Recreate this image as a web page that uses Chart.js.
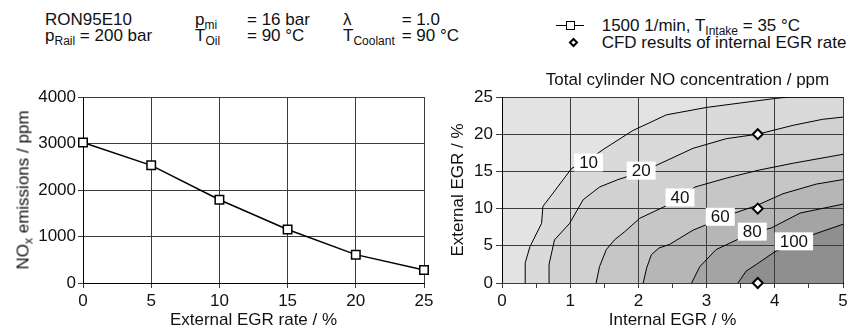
<!DOCTYPE html>
<html>
<head>
<meta charset="utf-8">
<script src="https://cdn.jsdelivr.net/npm/chart.js@4.4.1/dist/chart.umd.min.js"></script>
<style>
  body { margin: 0; background: #fff; }
  #page { position: relative; width: 853px; height: 331px; overflow: hidden;
          font-family: "Liberation Sans", Arial, sans-serif; font-size: 17px; color: #111; }
  canvas { position: absolute; }
  .txt { position: absolute; line-height: 17px; white-space: nowrap; }
  .txt sub { font-size: 12px; vertical-align: -4px; line-height: 0; }
  .sym-line { position: absolute; width: 28px; height: 0; border-top: 1.5px solid #000; }
  .sym-sq { position: absolute; width: 9px; height: 9px; box-sizing: border-box;
            border: 1.5px solid #000; background: #fff; }
  .sym-dia { position: absolute; width: 7px; height: 7px; box-sizing: border-box;
             border: 2px solid #000; background: #fff; transform: rotate(45deg); }
</style>
</head>
<body>
<div id="page">
  <canvas id="noxChart" width="440" height="251" style="left:0;top:80px"></canvas>
  <canvas id="noChart" width="413" height="251" style="left:440px;top:80px"></canvas>

  <!-- operating point header -->
  <div class="txt" style="left:45px;top:10.6px">RON95E10</div>
  <div class="txt" style="left:45px;top:27.3px">p<sub>Rail</sub> = 200 bar</div>
  <div class="txt" style="left:195px;top:10.6px">p<sub>mi</sub></div>
  <div class="txt" style="left:247px;top:10.6px">= 16 bar</div>
  <div class="txt" style="left:195px;top:27.3px">T<sub>Oil</sub></div>
  <div class="txt" style="left:247px;top:27.3px">= 90 °C</div>
  <div class="txt" style="left:343px;top:10.6px">λ</div>
  <div class="txt" style="left:401.7px;top:10.6px">= 1.0</div>
  <div class="txt" style="left:343px;top:27.3px">T<sub>Coolant</sub></div>
  <div class="txt" style="left:401.7px;top:27.3px">= 90 °C</div>

  <!-- legend -->
  <div class="sym-line" style="left:556px;top:24.8px"></div>
  <div class="sym-sq" style="left:565.5px;top:21px"></div>
  <div class="txt" style="left:601.7px;top:17.3px">1500 1/min, T<sub>Intake</sub> = 35 °C</div>
  <div class="sym-dia" style="left:569.5px;top:39.2px"></div>
  <div class="txt" style="left:601.7px;top:33.9px">CFD results of internal EGR rate</div>

  <div class="txt" style="left:687.5px;top:70.6px;transform:translateX(-50%)">Total cylinder NO concentration / ppm</div>
  <div class="txt" style="left:22.8px;top:190px;transform:translate(-50%,-50%) rotate(-90deg)">NO<sub>x</sub> emissions / ppm</div>
</div>

<script>
// left chart: NOx over external EGR
const egrRate = [0, 5, 10, 15, 20, 25];
const noxPpm = [3020, 2530, 1790, 1150, 610, 280];

// right chart: iso lines of total cylinder NO, [internal EGR %, external EGR %]
const isoLevels = [100, 80, 60, 40, 20, 10];
const iso100 = [[3.46, 0], [3.58, 1.6], [3.73, 2.5], [4.0, 4.2], [4.28, 5.3], [4.56, 6.5], [5, 7.9]];
const iso80 = [[2.78, 0], [2.9, 2.2], [3.14, 4.5], [3.49, 6.0], [3.7, 6.8], [3.95, 7.4], [4.37, 9.4], [5, 10.6]];
const iso60 = [[2.07, 0], [2.12, 2.0], [2.19, 3.8], [2.3, 4.7], [2.46, 5.2], [2.8, 7.1], [3.2, 8.6],
               [3.41, 9.4], [3.73, 10.4], [4.12, 12.0], [4.61, 13.3], [5, 13.9]];
const iso40 = [[1.38, 0], [1.43, 2.2], [1.53, 4.5], [1.65, 5.8], [1.8, 6.9], [2.02, 8.7], [2.39, 10.3],
               [2.61, 11.4], [2.83, 12.9], [3.29, 14.1], [3.78, 15.2], [4.27, 16.1], [5, 17.3]];
const iso20 = [[0.69, 0], [0.69, 2.5], [0.77, 5.8], [0.99, 8.0], [1.19, 11.2], [1.43, 12.9], [1.7, 13.9],
               [2.04, 14.9], [2.26, 15.8], [2.8, 18.1], [3.29, 19.4], [3.75, 20], [4.27, 21.2], [4.7, 22.0], [5, 22.3]];
const iso10 = [[0.34, 0], [0.34, 2.7], [0.41, 4.9], [0.58, 8.0], [0.6, 10.3], [0.75, 12.1], [1.02, 15.4],
               [1.27, 16.6], [1.51, 18.1], [1.92, 20.5], [2.41, 22.6], [3.0, 23.6], [3.5, 24.2], [4.0, 24.8],
               [4.2, 25], [5, 25]];
const isoLines = [iso100, iso80, iso60, iso40, iso20, iso10];

// CFD points
const cfdInternal = [3.75, 3.75, 3.75];
const cfdExternal = [0, 10, 20];

// where the level numbers sit on the lines
const labelInternal = [4.28, 3.67, 3.2, 2.61, 2.04, 1.27];
const labelExternal = [5.6, 6.9, 8.9, 11.5, 15.1, 16.2];

const FONT = '"Liberation Sans", Arial, sans-serif';
Chart.defaults.font.family = FONT;
Chart.defaults.font.size = 17;
Chart.defaults.color = '#111';

const gridCol = '#3c3c3c';
const bandFill = ['#8f8f8f', '#a4a4a4', '#b6b6b6', '#c6c6c6', '#d1d1d1', '#dadada'];

new Chart(document.getElementById('noxChart'), {
    type: 'line',
    data: {
        datasets: [{
            data: egrRate.map((r, i) => ({ x: r, y: noxPpm[i] })),
            borderColor: '#000',
            borderWidth: 1.5,
            pointStyle: 'rect',
            pointRadius: 6,
            pointBorderWidth: 1.5,
            pointBackgroundColor: '#fff',
            pointBorderColor: '#000',
            fill: false,
            clip: false,
        }]
    },
    options: {
        responsive: false,
        animation: false,
        devicePixelRatio: 1,
        layout: { padding: { top: 17, right: 16, left: 0, bottom: 0 } },
        plugins: { legend: { display: false }, tooltip: { enabled: false } },
        scales: {
            x: {
                type: 'linear', min: 0, max: 25,
                ticks: { stepSize: 5, padding: 3 },
                grid: { color: gridCol, tickLength: 5 },
                border: { color: '#000' },
                title: { display: true, text: 'External EGR rate / %', padding: { top: 0, bottom: 0 } },
                afterFit: s => { s.height = 48; }
            },
            y: {
                min: 0, max: 4000,
                ticks: { stepSize: 1000, padding: 2, callback: v => String(v) },
                grid: { color: gridCol, tickLength: 5 },
                border: { color: '#000' },
                afterFit: s => { s.width = 83; }
            }
        }
    }
});

const isMajor = v => Math.abs(v - Math.round(v)) < 1e-6;

// light background of the map, then grid back on top of the filled bands
const mapLayers = {
    id: 'mapLayers',
    beforeDraw(chart) {
        const a = chart.chartArea;
        chart.ctx.save();
        chart.ctx.fillStyle = '#e3e3e3';
        chart.ctx.fillRect(a.left, a.top, a.right - a.left, a.bottom - a.top);
        chart.ctx.restore();
    },
    beforeDatasetsDraw(chart) {
        for (const s of [chart.scales.x, chart.scales.y]) {
            s.drawGrid(chart.chartArea);
            s.drawBorder();
        }
    },
    afterDatasetsDraw(chart) {
        const { ctx, scales: { x, y } } = chart;
        ctx.save();
        ctx.font = '17px ' + FONT;
        ctx.textAlign = 'center';
        ctx.textBaseline = 'middle';
        isoLevels.forEach((lvl, i) => {
            const px = x.getPixelForValue(labelInternal[i]);
            const py = y.getPixelForValue(labelExternal[i]);
            const w = ctx.measureText(String(lvl)).width + 10;
            ctx.fillStyle = '#fff';
            ctx.fillRect(px - w / 2, py - 9, w, 18);
            ctx.fillStyle = '#111';
            ctx.fillText(String(lvl), px, py + 1);
        });
        ctx.restore();
    }
};

new Chart(document.getElementById('noChart'), {
    type: 'line',
    data: {
        datasets: [{
            type: 'scatter',
            data: cfdInternal.map((v, i) => ({ x: v, y: cfdExternal[i] })),
            pointStyle: 'rectRot',
            pointRadius: 5,
            pointBorderWidth: 2,
            pointBackgroundColor: '#fff',
            pointBorderColor: '#000',
            clip: false,
        }].concat(isoLines.map((pts, i) => ({
            data: pts.map(p => ({ x: p[0], y: p[1] })),
            borderColor: '#000',
            borderWidth: 1,
            pointRadius: 0,
            tension: 0,
            fill: 'start',
            backgroundColor: bandFill[i],
        })))
    },
    options: {
        responsive: false,
        animation: false,
        devicePixelRatio: 1,
        layout: { padding: { top: 17, right: 10, left: 0, bottom: 0 } },
        plugins: {
            legend: { display: false },
            tooltip: { enabled: false },
            filler: { drawTime: 'beforeDatasetsDraw' }
        },
        scales: {
            x: {
                type: 'linear', min: 0, max: 5,
                ticks: { stepSize: 0.5, padding: 3, autoSkip: false, callback: v => isMajor(v) ? v : '' },
                grid: {
                    color: c => isMajor(c.tick.value) ? gridCol : 'rgba(0,0,0,0)',
                    tickColor: gridCol, tickLength: 5
                },
                border: { color: '#000' },
                title: { display: true, text: 'Internal EGR / %', padding: { top: 0, bottom: 0 } },
                afterFit: s => { s.height = 48; }
            },
            y: {
                type: 'linear', min: 0, max: 25,
                ticks: { stepSize: 5, padding: 3 },
                grid: { color: gridCol, tickLength: 6 },
                border: { color: '#000' },
                title: { display: true, text: 'External EGR / %', padding: { top: 8, bottom: 0 } },
                afterFit: s => { s.width = 62; }
            }
        }
    },
    plugins: [mapLayers]
});
</script>
</body>
</html>
